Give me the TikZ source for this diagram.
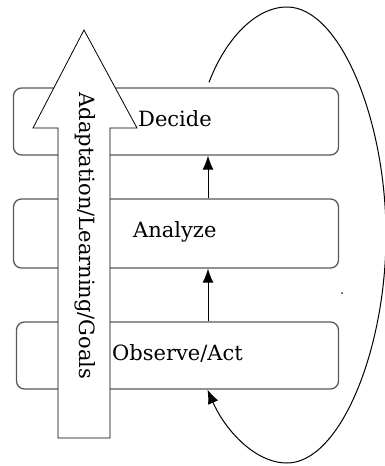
\documentclass[tikz,border=0pt]{standalone}
\usepackage{fontspec}
\setmainfont{DejaVu Serif}
\usepackage{tikz}
\usetikzlibrary{positioning,arrows.meta,calc}

\begin{document}
\begin{tikzpicture}[
  x=1pt, y=-1pt,
  font=\fontsize{21}{25}\selectfont,
  stage/.style={draw=black!65, line width=1.3pt, rounded corners=8pt,
                minimum width=325pt, minimum height=67pt, inner sep=0pt},
  tag/.style={anchor=west, inner sep=0pt},
  link/.style={-{Latex[length=14pt,width=11pt]}, line width=1pt},
  bigarrow/.style={draw, fill=white, line width=0.8pt}
]
\useasboundingbox (0,0) rectangle (385,466);
% the three stages
\node[stage] (decide) at (176,121.5) {};
\node[stage, minimum height=69pt] (analyze) at (176,233.5) {};
\node[stage, minimum width=322pt] (observe) at (177.5,355.5) {};
\node[tag] (decidetxt) at (138,119) {Decide};
\node[tag] (analyzetxt) at (133,232) {Analyze};
\node[tag] (observetxt) at (112,353) {Observe/Act};
% upward steps
\draw[link] ([xshift=32pt]analyze.north) -- ([xshift=32pt]decide.south);
\draw[link] ([xshift=30.5pt]observe.north) -- ([xshift=32pt]analyze.south);
% feedback loop
\coordinate (looptop) at (287,7);
\coordinate (loopright) at (386,235);
\coordinate (loopbottom) at (287,463);
\draw[link] ([shift={(33,-5)}]decide.north)
  .. controls (225,40) and (255,7) .. (looptop)
  .. controls (340,7) and (386,120) .. (loopright)
  .. controls (386,350) and (340,463) .. (loopbottom)
  .. controls (255,463) and (225,430) .. ([xshift=30pt]observe.south);
\node[circle, fill=black!80, inner sep=0pt, minimum size=2pt] (stray) at (342,293) {};
% adaptation arrow
\draw[bigarrow] (58,438) -- (58,128) -- (33,128) -- (84,30) -- (137,128)
  -- (110,128) -- (110,438) -- cycle;
\node[rotate=-90, inner sep=0pt] (adapt) at (85,236) {Adaptation/Learning/Goals};
\end{tikzpicture}
\end{document}
